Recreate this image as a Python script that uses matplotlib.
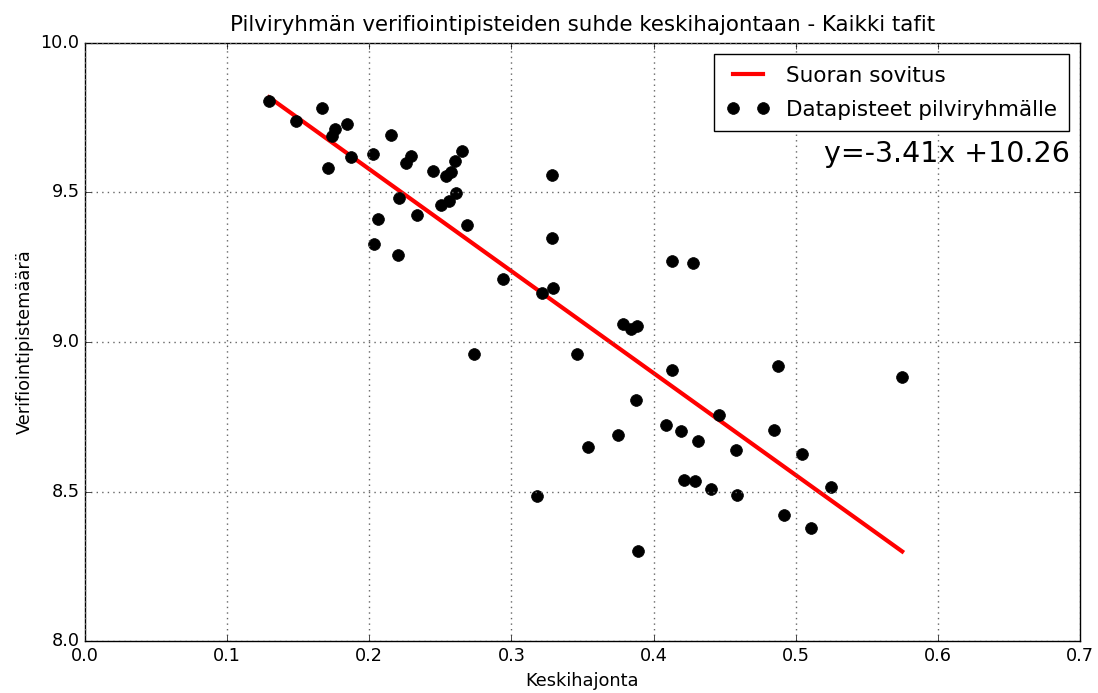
import matplotlib
matplotlib.use("Agg")
import matplotlib.pyplot as plt
import numpy as np

plt.style.use("classic")

# data (px -> data)
x_vals = [0.1295, 0.1488, 0.1667, 0.1736, 0.1757, 0.1846, 0.1711, 0.1874, 0.2027, 0.2155,
          0.2036, 0.2064, 0.2209, 0.2202, 0.2257, 0.2294, 0.2336, 0.2451, 0.2542, 0.2575,
          0.2503, 0.2561, 0.2608, 0.2605, 0.2650, 0.2685, 0.2736, 0.2941, 0.3283, 0.3283,
          0.3293, 0.3213, 0.3180, 0.3464, 0.3537, 0.3752, 0.3787, 0.3841, 0.3883, 0.3874,
          0.3888, 0.4131, 0.4279, 0.4131, 0.4089, 0.4190, 0.4216, 0.4289, 0.4312, 0.4406,
          0.4460, 0.4577, 0.4587, 0.4875, 0.4847, 0.4919, 0.5046, 0.5109, 0.5245, 0.5749]
y_vals = [9.807, 9.739, 9.781, 9.689, 9.712, 9.730, 9.581, 9.618, 9.628, 9.692,
          9.327, 9.412, 9.483, 9.292, 9.599, 9.621, 9.426, 9.572, 9.555, 9.567,
          9.458, 9.470, 9.497, 9.605, 9.640, 9.391, 8.960, 9.210, 9.559, 9.347,
          9.182, 9.165, 8.485, 8.961, 8.650, 8.689, 9.060, 9.045, 9.055, 8.805,
          8.302, 9.271, 9.265, 8.905, 8.724, 8.702, 8.538, 8.534, 8.668, 8.507,
          8.756, 8.639, 8.490, 8.921, 8.706, 8.421, 8.624, 8.377, 8.515, 8.882]
slope = -3.41
intercept = 10.26

title = "Pilviryhmän verifiointipisteiden suhde keskihajontaan - Kaikki tafit"
xlabel = "Keskihajonta"
ylabel = "Verifiointipistemäärä"
fit_label = "Suoran sovitus"
pts_label = "Datapisteet pilviryhmälle"
eq_text = "y=-3.41x +10.26"

plt.rcParams['font.family'] = ['DejaVu Sans']

fig = plt.figure(figsize=(10.98, 6.93), dpi=100, facecolor="white")
ax = fig.add_axes([0.0774, 0.075, 0.9062, 0.863])

xs = np.array(x_vals)
xl = np.array([xs.min(), xs.max()])
ax.plot(xl, slope * xl + intercept, color="red", lw=3, label=fit_label)
ax.plot(x_vals, y_vals, "o", color="black", ms=8.5, mew=0.5, label=pts_label)

ax.set_xlim(0.0, 0.7)
ax.set_ylim(8.0, 10.0)
ax.set_xticks(np.arange(0, 0.71, 0.1))
ax.set_yticks([8.0, 8.5, 9.0, 9.5, 10.0])
ax.grid(True, color="0.4", linestyle=":", lw=1)
ax.set_title(title, fontsize=15.4, y=1.008)
ax.set_xlabel(xlabel, fontsize=12.8)
ax.set_ylabel(ylabel, fontsize=12.8)
ax.tick_params(labelsize=12.7)

leg = ax.legend(loc="upper right", numpoints=2, fontsize=15.5, handlelength=2.0,
                labelspacing=0.65, borderpad=0.55)
ax.text(0.99, 0.815, eq_text, transform=ax.transAxes, ha="right", va="center",
        fontsize=20.5)

fig.savefig("out.png", dpi=100, facecolor="white")
